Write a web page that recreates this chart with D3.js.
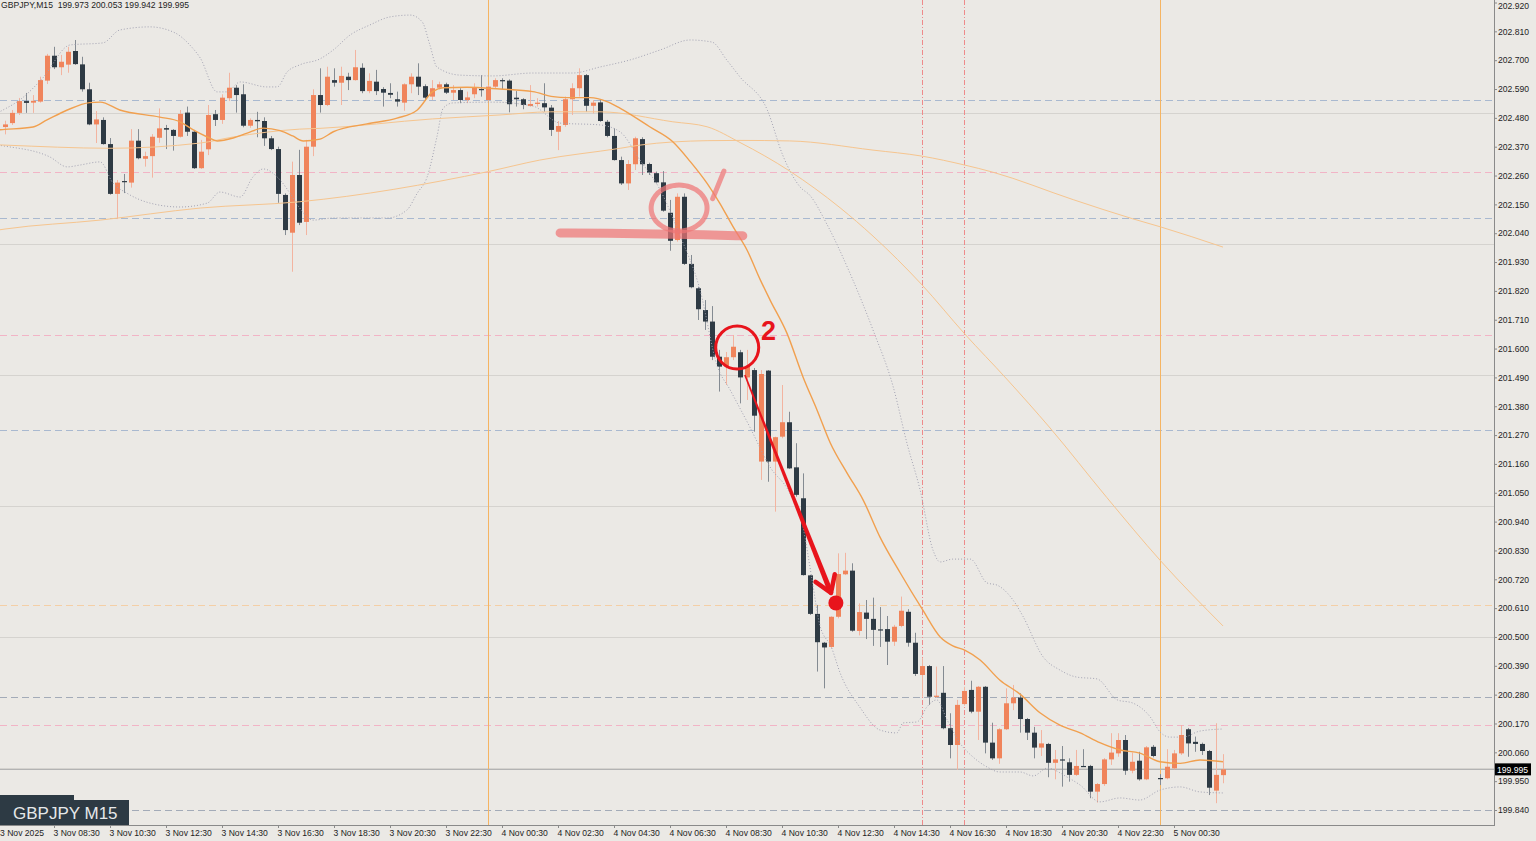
<!DOCTYPE html>
<html><head><meta charset="utf-8">
<script src="https://cdn.jsdelivr.net/npm/d3@7"></script>
<style>
html,body{margin:0;padding:0;background:#ebe9e5;overflow:hidden}
svg{display:block}
text{font-family:"Liberation Sans",Arial,sans-serif}
</style></head><body>
<svg id="c" width="1536" height="841"></svg>
<script>
// ---------- DATA ----------
const symbolTitle = "GBPJPY,M15  199.973 200.053 199.942 199.995";
const boxLabel = "GBPJPY M15";
const firstDateLabel = "3 Nov 2025";
const timeTickIdx = [7,15,23,31,39,47,55,63,71,79,87,95,103,111,119,127,135,143,151,159,167];
const timeLabels = ["3 Nov 08:30","3 Nov 10:30","3 Nov 12:30","3 Nov 14:30","3 Nov 16:30","3 Nov 18:30","3 Nov 20:30","3 Nov 22:30","4 Nov 00:30","4 Nov 02:30","4 Nov 04:30","4 Nov 06:30","4 Nov 08:30","4 Nov 10:30","4 Nov 12:30","4 Nov 14:30","4 Nov 16:30","4 Nov 18:30","4 Nov 20:30","4 Nov 22:30","5 Nov 00:30"];
const priceTicks = [199.840,199.950,200.060,200.170,200.280,200.390,200.500,200.610,200.720,200.830,200.940,201.050,201.160,201.270,201.380,201.490,201.600,201.710,201.820,201.930,202.040,202.150,202.260,202.370,202.480,202.590,202.700,202.810,202.920];
const currentPrice = 199.995;

const openP = [202.445,202.460,202.499,202.544,202.538,202.542,202.622,202.717,202.673,202.683,
202.735,202.684,202.589,202.455,202.472,202.380,202.190,202.239,202.233,202.393,
202.324,202.334,202.404,202.441,202.434,202.408,202.500,202.427,202.288,202.360,
202.494,202.472,202.555,202.595,202.570,202.450,202.472,202.468,202.402,202.361,
202.186,202.042,202.262,202.083,202.370,202.567,202.529,202.624,202.614,202.637,
202.624,202.671,202.582,202.618,202.590,202.575,202.551,202.538,202.608,202.637,
202.601,202.561,202.595,202.608,202.576,202.586,202.548,202.570,202.590,202.548,
202.599,202.624,202.622,202.557,202.551,202.525,202.533,202.536,202.519,202.427,
202.453,202.551,202.593,202.643,202.526,202.539,202.465,202.411,202.319,202.230,
202.303,202.399,202.304,202.269,202.234,202.118,202.014,202.179,201.923,201.830,
201.747,201.703,201.569,201.534,201.567,201.586,201.490,201.518,201.169,201.516,
201.169,201.264,201.319,201.147,201.029,200.735,200.588,200.478,200.462,200.577,
200.739,200.753,200.523,200.593,200.569,200.529,200.530,200.482,200.542,200.596,
200.478,200.355,200.389,200.272,200.287,200.152,200.088,200.244,200.298,200.215,
200.310,200.097,200.037,200.148,200.247,200.269,200.187,200.135,200.078,200.092,
200.020,200.033,200.022,199.974,200.008,200.008,199.910,199.939,200.033,200.056,
200.107,199.990,200.028,199.957,200.081,199.962,199.961,199.999,200.056,200.148,
200.100,200.092,200.065,199.914,199.973];
const highP = [202.469,202.510,202.556,202.575,202.567,202.637,202.724,202.751,202.720,202.751,
202.777,202.713,202.614,202.506,202.482,202.403,202.243,202.266,202.437,202.437,
202.351,202.418,202.516,202.453,202.437,202.510,202.523,202.434,202.396,202.529,
202.510,202.570,202.652,202.605,202.608,202.478,202.503,202.482,202.411,202.370,
202.192,202.313,202.358,202.396,202.589,202.669,202.675,202.669,202.675,202.652,
202.739,202.688,202.650,202.663,202.597,202.612,202.580,202.612,202.650,202.688,
202.608,202.624,202.618,202.614,202.605,202.593,202.580,202.612,202.643,202.605,
202.631,202.631,202.627,202.582,202.555,202.605,202.555,202.612,202.529,202.468,
202.561,202.612,202.669,202.647,202.548,202.551,202.472,202.440,202.332,202.319,
202.408,202.406,202.309,202.275,202.277,202.167,202.192,202.192,201.957,201.836,
201.785,201.762,201.595,201.587,201.652,201.595,201.595,201.526,201.518,201.518,
201.264,201.461,201.359,201.239,201.124,200.736,200.622,200.481,200.579,200.819,
200.821,200.781,200.628,200.641,200.650,200.614,200.580,200.546,200.654,200.606,
200.516,200.419,200.393,200.387,200.389,200.209,200.260,200.310,200.333,200.313,
200.313,200.173,200.152,200.304,200.317,200.285,200.191,200.157,200.145,200.096,
200.069,200.084,200.037,200.069,200.072,200.012,199.943,200.038,200.133,200.133,
200.126,200.059,200.062,200.084,200.088,199.977,200.072,200.069,200.164,200.153,
200.120,200.097,200.069,200.171,200.053];
const lowP = [202.417,202.453,202.491,202.499,202.499,202.538,202.609,202.666,202.643,202.652,
202.682,202.580,202.452,202.384,202.378,202.187,202.094,202.193,202.214,202.322,
202.294,202.252,202.385,202.361,202.355,202.405,202.411,202.285,202.285,202.338,
202.449,202.457,202.544,202.500,202.444,202.442,202.406,202.373,202.357,202.156,
202.033,201.893,202.071,202.033,202.334,202.500,202.525,202.599,202.529,202.586,
202.622,202.574,202.574,202.567,202.523,202.555,202.523,202.507,202.574,202.567,
202.545,202.548,202.589,202.571,202.548,202.536,202.536,202.555,202.561,202.545,
202.593,202.589,202.501,202.523,202.513,202.523,202.523,202.503,202.411,202.357,
202.446,202.491,202.561,202.503,202.497,202.465,202.406,202.317,202.224,202.205,
202.281,202.262,202.262,202.230,202.122,201.973,202.008,201.919,201.830,201.709,
201.671,201.556,201.436,201.461,201.556,201.391,201.404,201.283,201.099,201.092,
200.978,201.258,201.141,201.035,200.734,200.584,200.368,200.304,200.457,200.571,
200.736,200.520,200.506,200.492,200.466,200.462,200.393,200.466,200.537,200.463,
200.351,200.272,200.241,200.268,200.148,200.037,199.993,200.238,200.209,200.107,
200.056,200.031,200.016,200.145,200.221,200.135,200.107,200.037,200.046,199.965,
199.957,199.929,199.948,199.970,200.004,199.885,199.868,199.932,200.012,200.043,
199.974,199.980,199.952,199.954,200.041,199.935,199.957,199.995,200.050,200.043,
200.062,200.050,199.897,199.866,199.942];
const closeP = [202.455,202.499,202.544,202.537,202.545,202.624,202.717,202.673,202.694,202.732,
202.685,202.589,202.455,202.474,202.380,202.190,202.233,202.235,202.393,202.326,
202.334,202.408,202.440,202.435,202.411,202.495,202.427,202.288,202.351,202.491,
202.472,202.557,202.595,202.567,202.450,202.472,202.467,202.402,202.361,202.190,
202.052,202.262,202.080,202.370,202.567,202.529,202.637,202.614,202.640,202.624,
202.673,202.582,202.621,202.582,202.576,202.568,202.542,202.608,202.637,202.599,
202.557,202.593,202.608,202.576,202.586,202.548,202.558,202.595,202.586,202.599,
202.624,202.622,202.532,202.551,202.529,202.533,202.538,202.520,202.434,202.449,
202.551,202.593,202.643,202.526,202.538,202.468,202.411,202.319,202.230,202.304,
202.402,202.303,202.271,202.234,202.126,202.011,202.179,201.923,201.834,201.750,
201.703,201.569,201.531,201.567,201.607,201.490,201.531,201.344,201.503,201.169,
201.262,201.319,201.143,201.042,200.736,200.588,200.480,200.460,200.577,200.740,
200.753,200.524,200.595,200.569,200.527,200.527,200.482,200.539,200.600,200.478,
200.359,200.389,200.272,200.276,200.152,200.088,200.241,200.294,200.215,200.310,
200.097,200.037,200.148,200.247,200.269,200.187,200.135,200.078,200.094,200.020,
200.033,200.029,199.974,200.008,200.006,199.910,199.939,200.033,200.059,200.107,
199.990,200.024,199.957,200.079,200.046,199.960,200.005,200.056,200.126,200.094,
200.092,200.065,199.925,199.974,199.995];

// indicator lines: [bar index, price]
const maFast = [[-1,202.434],[0,202.436],[4,202.445],[6,202.472],[8.9,202.510],[12.1,202.538],[13.6,202.540],[16.4,202.510],[22.1,202.483],[25,202.465],[26.9,202.434],[28.9,202.407],[30.3,202.392],[32.6,202.403],[34.6,202.422],[36.9,202.441],[39.3,202.431],[41.1,202.411],[42.6,202.392],[45,202.399],[46.9,202.427],[51.7,202.457],[56,202.479],[58.9,202.510],[61.1,202.580],[62.6,202.595],[66,202.597],[70.7,202.590],[75.4,202.580],[78.3,202.561],[80.3,202.557],[83.6,202.557],[86,202.542],[87.9,202.516],[92.1,202.446],[95.4,202.389],[97.9,202.313],[100.3,202.230],[102.1,202.155],[104,202.065],[106,201.976],[107.9,201.862],[109.3,201.785],[111.7,201.659],[114,201.492],[116,201.366],[117.9,201.240],[120.3,201.125],[122.6,201.022],[125,200.881],[127.9,200.744],[131.1,200.603],[133.6,200.500],[135.4,200.466],[137.1,200.450],[139.3,200.412],[142.1,200.336],[145,200.282],[147.9,200.210],[150.7,200.164],[153.6,200.134],[156.4,200.097],[159.3,200.069],[162.1,200.057],[165,200.024],[167.9,200.018],[170.7,200.031],[174,200.024]];
const maMid = [[-1,202.377],[0,202.376],[15,202.364],[27.9,202.384],[32.6,202.407],[42.1,202.437],[45,202.440],[61.1,202.476],[70.7,202.491],[77.9,202.503],[85,202.503],[95.4,202.465],[100.3,202.446],[105,202.386],[112.1,202.277],[119.3,202.137],[124,202.029],[131,201.843],[137.1,201.656],[143.1,201.484],[149.3,201.297],[157.4,201.032],[165.1,200.790],[174,200.542]];
const maSlow = [[-1,202.052],[0,202.056],[13.6,202.090],[27.9,202.136],[42.1,202.160],[69,202.275],[76.4,202.319],[87.9,202.364],[90.7,202.376],[100.3,202.393],[105,202.394],[112.1,202.392],[124,202.357],[131,202.334],[137.1,202.300],[141.1,202.273],[152.6,202.168],[161.1,202.095],[165.1,202.064],[174,201.987]];
const bandUpper = [[-1,202.500],[0,202.514],[2.1,202.548],[5.4,202.632],[9.3,202.758],[14,202.766],[16.4,202.815],[20.7,202.827],[24.3,202.804],[26.4,202.758],[27.9,202.708],[30.3,202.579],[31.7,202.579],[33.6,202.617],[37.4,202.598],[38.9,202.598],[40.3,202.655],[42.1,202.682],[45,202.705],[46.9,202.739],[49.3,202.796],[52.1,202.834],[55,202.865],[57.9,202.872],[59.6,202.846],[60.7,202.758],[61.7,202.674],[65,202.643],[69.7,202.640],[75.4,202.651],[81.1,202.651],[85,202.674],[89.3,202.701],[93.6,202.739],[97.9,202.777],[101,202.769],[103.1,202.701],[105,202.636],[108.9,202.510],[111.1,202.338],[113.6,202.216],[115,202.184],[117.4,202.075],[120.7,201.888],[124,201.671],[126.9,201.453],[128.9,201.234],[130.7,201.064],[132.6,200.829],[133.6,200.786],[135.4,200.797],[137.9,200.797],[140.3,200.706],[141.7,200.698],[144,200.641],[145.4,200.580],[148.3,200.424],[150.7,200.374],[153.1,200.347],[156,200.340],[158.9,200.260],[161.1,200.248],[163.6,200.195],[165,200.138],[166.4,200.118],[168.3,200.118],[170.7,200.141],[174,200.149]];
const bandLower = [[-1,202.376],[0,202.372],[6.4,202.331],[8.9,202.293],[10.7,202.300],[13.6,202.312],[15.4,202.232],[17.4,202.193],[20.7,202.155],[25,202.140],[28.9,202.155],[30.7,202.197],[33.6,202.178],[35.4,202.254],[36.9,202.285],[39.3,202.243],[40.7,202.193],[42.1,202.136],[44,202.090],[46.9,202.098],[54.6,202.098],[57.4,202.128],[58.9,202.193],[60.3,202.254],[61.7,202.407],[62.6,202.517],[64,202.537],[69.7,202.540],[75.4,202.525],[79.3,202.460],[85,202.453],[87.9,202.426],[90.7,202.319],[93.6,202.205],[96.4,202.033],[99.3,201.823],[101.7,201.537],[103.6,201.442],[106.4,201.301],[109.3,201.148],[112.1,201.049],[114,200.919],[115.3,200.717],[116.4,200.546],[118.1,200.458],[119.3,200.363],[122.1,200.233],[125,200.145],[127.4,200.134],[128.3,200.172],[130.3,200.176],[131.7,200.233],[133.1,200.260],[134.6,200.183],[136.4,200.096],[138.3,200.042],[140.3,200.004],[142.1,199.985],[145,199.985],[146.9,199.970],[148.9,200.000],[151.7,199.966],[153.6,199.935],[156.4,199.871],[159.3,199.886],[162.1,199.878],[165,199.916],[167.9,199.928],[170.7,199.909],[174,199.905]];

// horizontal levels
const roundLevels = [202.5,202.0,201.5,201.0,200.5,200.0];
const levelBlue = [202.548,202.098,201.289];
const levelPink = [202.273,201.652,200.164];
const levelOrange = [200.622];
const levelGray = [200.271,199.840];
// vertical markers (bar index)
const daySeparators = [69,165];
const sessionMarks = [131,137];

// hand-drawn annotations in data space
const annoUnderline = [[79.3,202.041],[86,202.040],[93,202.037],[100,202.034],[105.4,202.030]];
const annoCircle1 = {i:96.3, p:202.136};
const annoTick1 = [[101.1,202.172],[102.7,202.277]];
const annoCircle2 = {i:104.6, p:201.604};
const annoLabel2 = {i:108, p:201.633, text:"2"};
const annoArrow = [[105.7,201.499],[118,200.668]];
const annoDot = {i:118.7, p:200.630};

// ---------- DRAW ----------
const W = 1536, H = 841, plotRight = 1494, plotBottom = 825;
const svg = d3.select('#c');
const x = d3.scaleLinear().domain([0,174]).range([5,1223]);
const y = d3.scaleLinear().domain([199.840,202.920]).range([810,2.5]);

svg.append('rect').attr('width',W).attr('height',H).attr('fill','#ebe9e5');
svg.append('clipPath').attr('id','clip').append('rect')
  .attr('x',0).attr('y',0).attr('width',plotRight).attr('height',plotBottom);
const plot = svg.append('g').attr('clip-path','url(#clip)');

function hLines(data, color, dash, width){
  plot.append('g').selectAll('line').data(data).join('line')
    .attr('x1',0).attr('x2',plotRight+4)
    .attr('y1',d=>Math.round(y(d))+0.5).attr('y2',d=>Math.round(y(d))+0.5)
    .attr('stroke',color).attr('stroke-width',width||1)
    .attr('stroke-dasharray',dash||null);
}
hLines(roundLevels,'#d5d3cf',null,1.2);
hLines(levelBlue,'#a9b9d0','7,4');
hLines(levelPink,'#f2b4c6','7,4');
hLines(levelOrange,'#f4cfa6','7,4');
hLines(levelGray,'#a3abb8','7,4');

plot.append('g').selectAll('line').data(daySeparators).join('line')
  .attr('x1',d=>x(d)+0.5).attr('x2',d=>x(d)+0.5).attr('y1',0).attr('y2',plotBottom)
  .attr('stroke','#f5b462').attr('stroke-width',1);
plot.append('g').selectAll('line').data(sessionMarks).join('line')
  .attr('x1',d=>x(d)+0.5).attr('x2',d=>x(d)+0.5).attr('y1',0).attr('y2',plotBottom)
  .attr('stroke','#ee8a8a').attr('stroke-width',1).attr('stroke-dasharray','5,2,1,2');

// bid line
plot.append('line').attr('x1',0).attr('x2',plotRight)
  .attr('y1',Math.round(y(currentPrice))+0.5).attr('y2',Math.round(y(currentPrice))+0.5)
  .attr('stroke','#b3b3b3').attr('stroke-width',1);

// candles
const candles = openP.map((o,i)=>({i,o,h:highP[i],l:lowP[i],c:closeP[i],bull:closeP[i]>o}));
const cg = plot.append('g');
cg.selectAll('line.w').data(candles).join('line').attr('class','w')
  .attr('x1',d=>x(d.i)+0.5).attr('x2',d=>x(d.i)+0.5)
  .attr('y1',d=>y(d.h)).attr('y2',d=>y(d.l))
  .attr('stroke',d=>d.bull?'#f3b4a0':'#848b92').attr('stroke-width',1);
cg.selectAll('rect.b').data(candles).join('rect').attr('class','b')
  .attr('x',d=>x(d.i)-2).attr('width',5)
  .attr('y',d=>y(Math.max(d.o,d.c)))
  .attr('height',d=>Math.max(1.2, y(Math.min(d.o,d.c))-y(Math.max(d.o,d.c))))
  .attr('fill',d=>d.bull?'#f0845b':'#2e3a44');

// indicators
const line = d3.line().x(d=>x(d[0])).y(d=>y(d[1])).curve(d3.curveMonotoneX);
plot.append('path').datum(bandUpper).attr('d',line).attr('fill','none')
  .attr('stroke','#a2a2b2').attr('stroke-width',1).attr('stroke-dasharray','1,2');
plot.append('path').datum(bandLower).attr('d',line).attr('fill','none')
  .attr('stroke','#a2a2b2').attr('stroke-width',1).attr('stroke-dasharray','1,2');
plot.append('path').datum(maSlow).attr('d',line).attr('fill','none')
  .attr('stroke','#f6c58f').attr('stroke-width',1);
plot.append('path').datum(maMid).attr('d',line).attr('fill','none')
  .attr('stroke','#f6c58f').attr('stroke-width',1);
plot.append('path').datum(maFast).attr('d',line).attr('fill','none')
  .attr('stroke','#f1a04f').attr('stroke-width',1.4);

// annotations
const ann = plot.append('g');
const pinkStroke = sel => sel.attr('fill','none').attr('stroke','#ef7676').attr('stroke-opacity',0.72).attr('stroke-linecap','round');
ann.append('path').datum(annoUnderline).attr('d',d3.line().x(d=>x(d[0])).y(d=>y(d[1])).curve(d3.curveBasis))
  .call(pinkStroke).attr('stroke-width',9);
{
  const cx = x(annoCircle1.i), cy = y(annoCircle1.p), rx = 28, ry = 23;
  const pts = d3.range(30, 385, 6).map(a => {
    const t = a*Math.PI/180;
    return [cx + rx*Math.cos(t), cy + ry*Math.sin(t)];
  });
  ann.append('path').attr('d',d3.line().curve(d3.curveBasis)(pts)).call(pinkStroke).attr('stroke-width',5);
  ann.append('path').attr('d',d3.line()(annoTick1.map(d=>[x(d[0]),y(d[1])]))).call(pinkStroke).attr('stroke-width',5);
}
ann.append('circle').attr('cx',x(annoCircle2.i)).attr('cy',y(annoCircle2.p)).attr('r',21.5)
  .attr('fill','none').attr('stroke','#e8141c').attr('stroke-width',3);
ann.append('text').attr('x',x(annoLabel2.i)).attr('y',y(annoLabel2.p))
  .attr('font-size',27).attr('font-weight','bold').attr('fill','#e8141c').text(annoLabel2.text);
{
  const x0 = x(annoArrow[0][0]), y0 = y(annoArrow[0][1]);
  const x1 = x(annoArrow[1][0]), y1 = y(annoArrow[1][1]);
  const dx = x1-x0, dy = y1-y0, L = Math.hypot(dx,dy), ux = dx/L, uy = dy/L;
  const nx = -uy, ny = ux;
  const w0 = 0.8, w1 = 2.6;
  const ex = x1 - ux*4, ey = y1 - uy*4;
  const poly = [[x0+nx*w0,y0+ny*w0],[ex+nx*w1,ey+ny*w1],[ex-nx*w1,ey-ny*w1],[x0-nx*w0,y0-ny*w0]];
  ann.append('path').attr('d','M'+poly.map(p=>p.join(',')).join('L')+'Z').attr('fill','#e8141c');
  const ang = 33*Math.PI/180, hl = 19;
  [ang,-ang].forEach(a=>{
    const rx = -(ux*Math.cos(a) - uy*Math.sin(a));
    const ry = -(ux*Math.sin(a) + uy*Math.cos(a));
    ann.append('line').attr('x1',x1).attr('y1',y1).attr('x2',x1+rx*hl).attr('y2',y1+ry*hl)
      .attr('stroke','#e8141c').attr('stroke-width',4.5).attr('stroke-linecap','round');
  });
}
ann.append('circle').attr('cx',x(annoDot.i)).attr('cy',y(annoDot.p)).attr('r',7.5).attr('fill','#e8141c');

// axes
svg.append('line').attr('x1',plotRight+0.5).attr('x2',plotRight+0.5).attr('y1',0).attr('y2',plotBottom+1)
  .attr('stroke','#8a8a8a');
svg.append('line').attr('x1',0).attr('x2',plotRight+1).attr('y1',plotBottom+0.5).attr('y2',plotBottom+0.5)
  .attr('stroke','#8a8a8a');

const yAxis = d3.axisRight(y).tickValues(priceTicks).tickFormat(d3.format('.3f')).tickSize(3).tickPadding(1);
const ya = svg.append('g').attr('transform',`translate(${plotRight},0)`).call(yAxis);
ya.select('.domain').remove();
ya.selectAll('line').attr('stroke','#8a8a8a');
ya.selectAll('text').attr('font-size',8.6).attr('fill','#1e1e1e')
  .style('font-family','"Liberation Sans",Arial,sans-serif');
ya.selectAll('.tick').filter(d=>d===202.920).select('text').attr('dy','0.72em');

const xAxis = d3.axisBottom(x).tickValues(timeTickIdx).tickFormat((d,i)=>timeLabels[i]).tickSize(3).tickPadding(2);
const xa = svg.append('g').attr('transform',`translate(0,${plotBottom})`).call(xAxis);
xa.select('.domain').remove();
xa.selectAll('line').attr('stroke','#8a8a8a');
xa.selectAll('text').attr('text-anchor','start').attr('dx',-1).attr('font-size',8.6).attr('fill','#1e1e1e')
  .style('font-family','"Liberation Sans",Arial,sans-serif');
svg.append('text').attr('x',0).attr('y',836).attr('font-size',8.6).attr('fill','#1e1e1e').text(firstDateLabel);

// current price tag
const cpY = y(currentPrice);
svg.append('rect').attr('x',plotRight+1).attr('y',cpY-6).attr('width',36).attr('height',12).attr('fill','#000');
svg.append('text').attr('x',plotRight+3).attr('y',cpY+3.5).attr('font-size',8.6).attr('fill','#fff').text(d3.format('.3f')(currentPrice));

// symbol box
svg.append('rect').attr('x',0).attr('y',795).attr('width',74).attr('height',6).attr('fill','#2d3a44');
svg.append('rect').attr('x',0).attr('y',800).attr('width',129).attr('height',25).attr('fill','#2d3a44');
svg.append('text').attr('x',13).attr('y',819).attr('font-size',17).attr('fill','#e6e8ea').text(boxLabel);

// header
svg.append('text').attr('x',1).attr('y',7.5).attr('font-size',8.6).attr('fill','#1e1e1e')
  .attr('xml:space','preserve').style('white-space','pre').text(symbolTitle);
</script>
</body></html>
